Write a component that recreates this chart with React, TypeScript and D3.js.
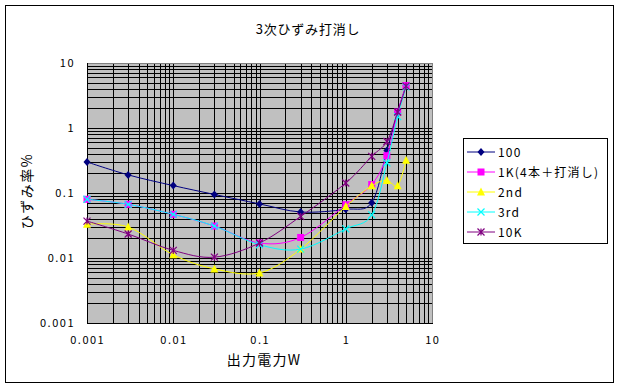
import React, { useEffect } from "react";
import * as d3 from "d3";

// x values (W)
const power = [0.001, 0.003, 0.01, 0.03, 0.1, 0.3, 1, 2, 3, 4, 5];

// distortion % per series
const s100 = [0.3, 0.19, 0.13, 0.095, 0.068, 0.051, 0.056, 0.071, 0.45, 1.76, 4.5];
const s1k = [0.08, 0.067, 0.047, 0.031, 0.017, 0.0207, 0.066, 0.135, 0.375, 1.76, 4.5];
const s2nd = [0.033, 0.03, 0.0112, 0.0068, 0.0059, 0.0137, 0.062, 0.129, 0.156, 0.129, 0.318];
const s3rd = [0.08, 0.067, 0.047, 0.031, 0.016, 0.0137, 0.028, 0.046, 0.29, 1.5, 4.3];
const s10k = [0.037, 0.0234, 0.0131, 0.0103, 0.017, 0.0436, 0.1425, 0.366, 0.62, 1.76, 4.4];

const seriesNames = ["100", "1K(4本＋打消し)", "2nd", "3rd", "10K"];
const seriesValues = [s100, s1k, s2nd, s3rd, s10k];
const seriesColors = ["#000080", "#FF00FF", "#FFFF00", "#00FFFF", "#800080"];
const seriesMarkers = ["diamond", "square", "triangle", "x", "star"];

const tickLabels = ["0.001", "0.01", "0.1", "1", "10"];
const tickValues = [0.001, 0.01, 0.1, 1, 10];

const W = 619;
const H = 388;
const plot = { left: 87, right: 432, top: 63, bottom: 323 };
const font = "'Noto Sans CJK JP', 'Noto Sans', sans-serif";

const Marker = ({ type, x, y, color }: { type: string; x: number; y: number; color: string }) => {
  const r = 3.5;
  if (type === "diamond")
    return <path d={`M${x},${y - r - 0.5}L${x + r},${y}L${x},${y + r + 0.5}L${x - r},${y}Z`} fill={color} />;
  if (type === "square")
    return <rect x={x - r} y={y - r} width={2 * r} height={2 * r} fill={color} />;
  if (type === "triangle")
    return <path d={`M${x},${y - r - 1}L${x + r + 0.5},${y + r}L${x - r - 0.5},${y + r}Z`} fill={color} />;
  if (type === "x")
    return (
      <path d={`M${x - r},${y - r}L${x + r},${y + r}M${x + r},${y - r}L${x - r},${y + r}`} stroke={color} strokeWidth={1.2} fill="none" />
    );
  return (
    <path
      d={`M${x - r},${y - r}L${x + r},${y + r}M${x + r},${y - r}L${x - r},${y + r}M${x},${y - r}L${x},${y + r}`}
      stroke={color}
      strokeWidth={1.2}
      fill="none"
    />
  );
};

export default function App() {
  useEffect(() => {
    document.body.style.margin = "0";
  }, []);

  const x = d3.scaleLog().domain([0.001, 10]).range([plot.left, plot.right]);
  const y = d3.scaleLog().domain([0.001, 10]).range([plot.bottom, plot.top]);

  // log grid: 1..9 in each decade
  const gridVals: number[] = [];
  for (let e = -3; e < 1; e++) {
    for (let m = 1; m <= 9; m++) gridVals.push(m * Math.pow(10, e));
  }
  gridVals.push(10);

  const line = d3
    .line<[number, number]>()
    .x((d) => x(d[0]))
    .y((d) => y(d[1]))
    .curve(d3.curveCatmullRom.alpha(0));

  return (
    <svg width={W} height={H} style={{ display: "block" }} fontFamily={font}>
      <rect x={0} y={0} width={W} height={H} fill="#fff" />
      <rect x={5.5} y={5.5} width={608} height={377} fill="#fff" stroke="#000" strokeWidth={1} />

      <text x={308} y={34} textAnchor="middle" fontSize={13} letterSpacing={0.8}>
        3次ひずみ打消し
      </text>

      {/* plot area */}
      <rect x={plot.left} y={plot.top} width={plot.right - plot.left} height={plot.bottom - plot.top} fill="#C0C0C0" />
      <g shapeRendering="crispEdges" stroke="#000" strokeWidth={1}>
        {gridVals.map((v, i) => (
          <line key={"v" + i} x1={Math.round(x(v)) + 0.5} x2={Math.round(x(v)) + 0.5} y1={plot.top} y2={plot.bottom} />
        ))}
        {gridVals.map((v, i) => (
          <line key={"h" + i} x1={plot.left} x2={plot.right} y1={Math.round(y(v)) + 0.5} y2={Math.round(y(v)) + 0.5} />
        ))}
      </g>
      <path
        d={`M${plot.left + 0.5},${plot.top + 0.5}H${plot.right + 0.5}V${plot.bottom + 0.5}`}
        fill="none"
        stroke="#808080"
        shapeRendering="crispEdges"
      />
      <path
        d={`M${plot.left + 0.5},${plot.top}V${plot.bottom + 0.5}H${plot.right + 1}`}
        fill="none"
        stroke="#000"
        shapeRendering="crispEdges"
      />

      {/* axis labels */}
      {tickValues.map((v, i) => (
        <text key={"yt" + i} x={75} y={y(v) + 4} textAnchor="end" fontSize={11} letterSpacing={1.5}>
          {tickLabels[i]}
        </text>
      ))}
      {tickValues.map((v, i) => (
        <text key={"xt" + i} x={x(v) + 0.75} y={344} textAnchor="middle" fontSize={11} letterSpacing={1.5}>
          {tickLabels[i]}
        </text>
      ))}
      <text x={264} y={365} textAnchor="middle" fontSize={14} letterSpacing={1.2}>
        出力電力W
      </text>
      <text transform={`translate(32,191) rotate(-90)`} textAnchor="middle" fontSize={14} letterSpacing={1.5}>
        ひずみ率%
      </text>

      {/* series */}
      {seriesValues.map((vals, si) => {
        const pts = power.map((p, i) => [p, vals[i]] as [number, number]);
        return (
          <g key={"s" + si}>
            <path d={line(pts) || ""} fill="none" stroke={seriesColors[si]} strokeWidth={1} />
            {pts.map((d, i) => (
              <Marker key={i} type={seriesMarkers[si]} x={x(d[0])} y={y(d[1])} color={seriesColors[si]} />
            ))}
          </g>
        );
      })}

      {/* legend */}
      <rect x={463.5} y={138.5} width={144} height={105} fill="#fff" stroke="#000" shapeRendering="crispEdges" />
      {seriesNames.map((name, i) => {
        const ly = 152 + i * 20;
        return (
          <g key={"l" + i}>
            <line x1={467} x2={495} y1={ly} y2={ly} stroke={seriesColors[i]} strokeWidth={1} />
            <Marker type={seriesMarkers[i]} x={481} y={ly} color={seriesColors[i]} />
            <text x={498} y={ly + 4.5} fontSize={12} letterSpacing={1.2}>
              {name}
            </text>
          </g>
        );
      })}
    </svg>
  );
}
